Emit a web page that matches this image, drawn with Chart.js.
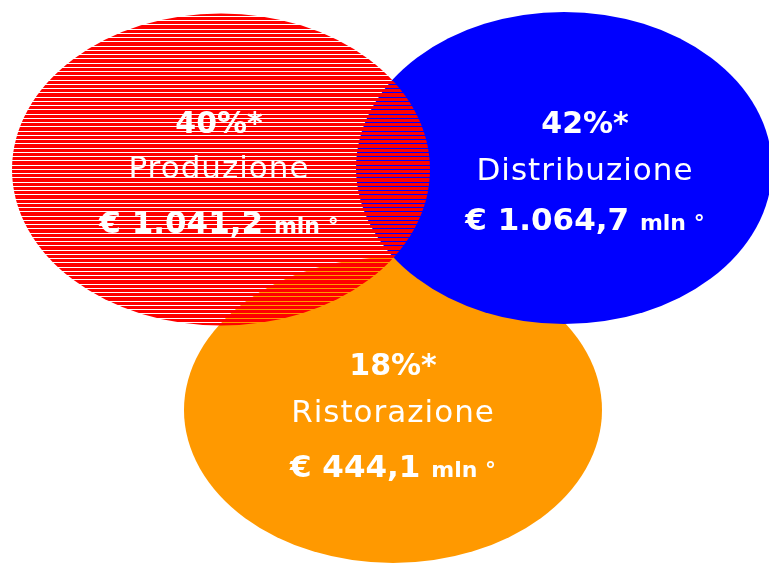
<!DOCTYPE html>
<html lang="it">
<head>
    <meta charset="UTF-8">
    <title>Ripartizione del fatturato</title>
    <script src="https://cdn.jsdelivr.net/npm/chart.js"></script>
    <style>
        body { margin: 0; background: #fff; }
        #wrap { width: 769px; height: 563px; }
    </style>
</head>
<body>
    <div id="wrap"><canvas id="graficoVenn" width="769" height="563"></canvas></div>

    <script>
        // dati
        const settori = ['Produzione', 'Distribuzione', 'Ristorazione'];
        const quote = [40, 42, 18];                 // percentuali
        const valori = [1041.2, 1064.7, 444.1];     // mln di euro

        // disposizione delle ellissi (coordinate della scala, in px)
        const ellissi = [
            { x: 221, y: 169.5, rx: 209, ry: 156, colore: '#ff0000', righe: true },
            { x: 564, y: 168, rx: 208, ry: 156, colore: '#0000ff', righe: false },
            { x: 393, y: 410, rx: 209, ry: 153, colore: '#ff9900', righe: false }
        ];
        const etichette = [
            { x: 219, y: 133, dy: [45, 100] },
            { x: 585, y: 133, dy: [47, 97] },
            { x: 393, y: 375, dy: [47, 102] }
        ];
        const ordine = [2, 1, 0]; // arancione sotto, rosso sopra

        const fmt = v => v.toLocaleString('it-IT', { minimumFractionDigits: 1, maximumFractionDigits: 1 });

        const ellissiPlugin = {
            id: 'ellissi',
            beforeDatasetsDraw(chart) {
                const ctx = chart.ctx;
                const sx = chart.scales.x, sy = chart.scales.y;
                const meta = chart.getDatasetMeta(0);
                ctx.save();
                ordine.forEach(i => {
                    const e = ellissi[i];
                    const pt = meta.data[i];
                    const cx = pt.x, cy = pt.y;
                    const rx = Math.abs(sx.getPixelForValue(e.x + e.rx) - cx);
                    const ry = Math.abs(sy.getPixelForValue(e.y + e.ry) - cy);
                    ctx.save();
                    ctx.beginPath();
                    ctx.ellipse(cx, cy, rx, ry, 0, 0, Math.PI * 2);
                    if (e.righe) {
                        ctx.clip();
                        ctx.fillStyle = e.colore;
                        const passo = 4.25;
                        for (let yy = cy - ry - 2; yy < cy + ry + 2; yy += passo) {
                            const a = Math.round(yy) + 1;
                            const b = Math.round(yy + passo);
                            ctx.fillRect(cx - rx - 2, a, rx * 2 + 4, b - a);
                        }
                    } else {
                        ctx.fillStyle = e.colore;
                        ctx.fill();
                    }
                    ctx.restore();
                });
                ctx.restore();
            },
            afterDatasetsDraw(chart) {
                const ctx = chart.ctx;
                const meta = chart.getDatasetMeta(0);
                ctx.save();
                ctx.fillStyle = '#ffffff';
                ctx.textBaseline = 'alphabetic';
                settori.forEach((nome, i) => {
                    const l = etichette[i];
                    const base = chart.scales.y.getPixelForValue(l.y);
                    const x = chart.scales.x.getPixelForValue(l.x);
                    ctx.textAlign = 'center';
                    ctx.letterSpacing = '0px';
                    ctx.font = 'bold 30px "DejaVu Sans"';
                    ctx.fillText(quote[i] + '%*', x, base);
                    ctx.font = '31px "DejaVu Sans"';
                    ctx.letterSpacing = '1px';
                    ctx.fillText(nome, x, base + l.dy[0]);
                    ctx.letterSpacing = '0px';
                    const t1 = '€ ' + fmt(valori[i]) + ' ';
                    const t2 = 'mln °';
                    ctx.font = 'bold 31px "DejaVu Sans"';
                    const w1 = ctx.measureText(t1).width;
                    ctx.font = 'bold 22px "DejaVu Sans"';
                    const w2 = ctx.measureText(t2).width;
                    const x0 = x - (w1 + w2) / 2;
                    ctx.textAlign = 'left';
                    ctx.font = 'bold 31px "DejaVu Sans"';
                    ctx.fillText(t1, x0, base + l.dy[1]);
                    ctx.font = 'bold 22px "DejaVu Sans"';
                    ctx.fillText(t2, x0 + w1, base + l.dy[1]);
                });
                ctx.restore();
            }
        };

        new Chart(document.getElementById('graficoVenn').getContext('2d'), {
            type: 'bubble',
            data: {
                labels: settori,
                datasets: [{
                    label: 'Fatturato',
                    data: ellissi.map((e, i) => ({ x: e.x, y: e.y, r: 0, v: valori[i] })),
                    backgroundColor: 'rgba(0,0,0,0)',
                    borderWidth: 0,
                    radius: 0
                }]
            },
            options: {
                responsive: false,
                animation: false,
                layout: { padding: 0 },
                plugins: { legend: { display: false }, tooltip: { enabled: false } },
                scales: {
                    x: { type: 'linear', min: 0, max: 769, display: false },
                    y: { type: 'linear', min: 0, max: 563, reverse: true, display: false }
                }
            },
            plugins: [ellissiPlugin]
        });
    </script>
</body>
</html>
